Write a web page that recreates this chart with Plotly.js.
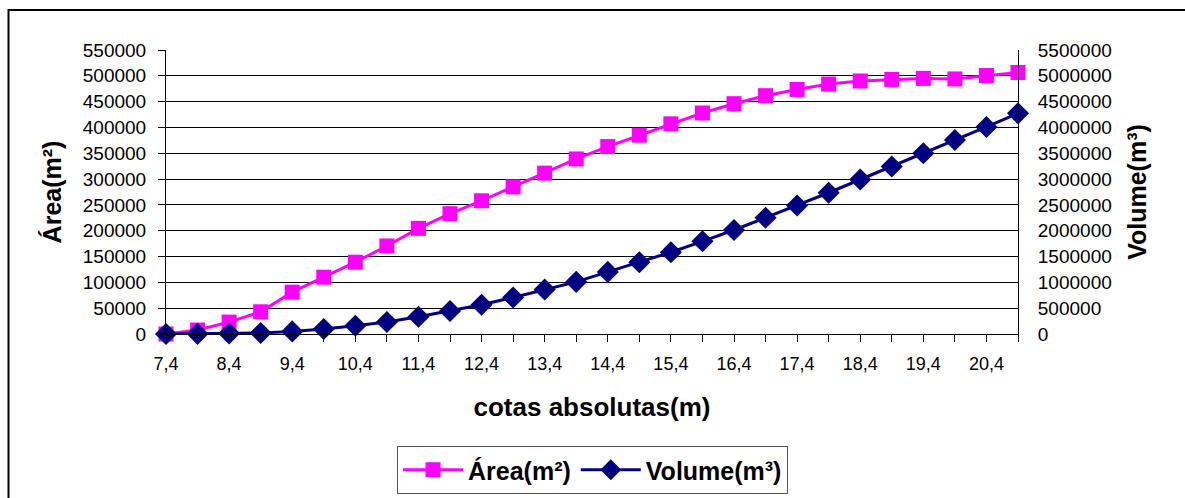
<!DOCTYPE html>
<html>
<head>
<meta charset="utf-8">
<script src="https://cdn.plot.ly/plotly-3.0.1.min.js"></script>
<style>
html,body{margin:0;padding:0;background:#fff;}
#chart{width:1185px;height:498px;}
</style>
</head>
<body>
<div id="chart"></div>
<script>
const cotas = [7.4,7.9,8.4,8.9,9.4,9.9,10.4,10.9,11.4,11.9,12.4,12.9,13.4,13.9,14.4,14.9,15.4,15.9,16.4,16.9,17.4,17.9,18.4,18.9,19.4,19.9,20.4,20.9];
const area = [0,7700,23000,43000,81000,110000,139000,170500,204600,233000,258000,285000,311500,339000,363000,385000,407000,428000,446000,461500,473600,484000,490000,493000,495000,494000,500600,506500];
const volume = [0,3000,10000,20000,50000,97000,161000,232000,335000,444000,566000,708000,862000,1010000,1203000,1390000,1583000,1795000,2014000,2252000,2490000,2735000,2992000,3243000,3500000,3758000,4009000,4273000];
const seriesNames = ['Área(m²)','Volume(m³)'];
const axisTitles = {x:'cotas absolutas(m)', y:'Área(m²)', y2:'Volume(m³)'};

const F = 'Arial, "Liberation Sans", sans-serif';

const traces = [
  {x: cotas, y: area, name: seriesNames[0], type:'scatter', mode:'lines+markers',
   line:{color:'#FF00FF', width:3}, marker:{symbol:'square', size:15, color:'#FF00FF'},
   cliponaxis:false, yaxis:'y'},
  {x: cotas, y: volume, name: seriesNames[1], type:'scatter', mode:'lines+markers',
   line:{color:'#000080', width:3}, marker:{symbol:'diamond', size:17, color:'#000080'},
   cliponaxis:false, yaxis:'y2'}
];

const L = 166, R = 1018, T = 50, B = 334;
const pw = R - L, ph = B - T;
function px(x){return (x - L)/pw;}
function py(y){return (B - y)/ph;}

const layout = {
  width:1185, height:498,
  margin:{l:L, r:1185-R, t:T, b:498-B, pad:0},
  paper_bgcolor:'#fff', plot_bgcolor:'#fff',
  separators:',.',
  font:{family:F, size:19, color:'#000'},
  showlegend:true,
  xaxis:{
    range:[7.4,20.9], tick0:7.4, dtick:1, tickformat:'.1f',
    showgrid:false, zeroline:false, showline:true, linecolor:'#000', linewidth:1,
    ticks:'outside', ticklen:7, tickcolor:'#000', tickwidth:1,
    minor:{dtick:0.5, tick0:7.4, ticks:'outside', ticklen:7, tickcolor:'#000', tickwidth:1, showgrid:false},
    tickfont:{family:F, size:18},
    ticklabelstandoff:6,
    title:{text:axisTitles.x, font:{family:F, size:26, weight:'bold'}, standoff:25}
  },
  yaxis:{
    range:[0,550000], dtick:50000, tickformat:'d',
    showgrid:true, gridcolor:'#000', gridwidth:1, zeroline:false,
    showline:true, linecolor:'#000', linewidth:1,
    ticks:'outside', ticklen:7, tickcolor:'#000',
    tickfont:{family:F, size:19}, ticklabelstandoff:8,
    title:{text:axisTitles.y, font:{family:F, size:25, weight:'bold'}, standoff:14}
  },
  yaxis2:{
    overlaying:'y', side:'right',
    range:[0,5500000], dtick:500000, tickformat:'d',
    showgrid:false, zeroline:false, showline:true, linecolor:'#000', linewidth:1,
    ticks:'', tickfont:{family:F, size:19}, ticklabelstandoff:15,
    title:{text:axisTitles.y2, font:{family:F, size:25, weight:'bold'}, standoff:17}
  },
  legend:{
    orientation:'h', xref:'container', yref:'container',
    x:0.5, xanchor:'center', y:1-446/498, yanchor:'top',
    bordercolor:'#555', borderwidth:1, bgcolor:'#fff',
    font:{family:F, size:25, weight:'bold'}, itemwidth:60,
    traceorder:'normal'
  },
  shapes:[
    {type:'path', xref:'paper', yref:'paper',
     path:'M '+px(8.5)+' '+py(520)+' L '+px(8.5)+' '+py(10)+' L '+px(1200)+' '+py(10),
     line:{color:'#000', width:2}}
  ]
};

Plotly.newPlot('chart', traces, layout, {displayModeBar:false, staticPlot:true});
</script>
</body>
</html>
